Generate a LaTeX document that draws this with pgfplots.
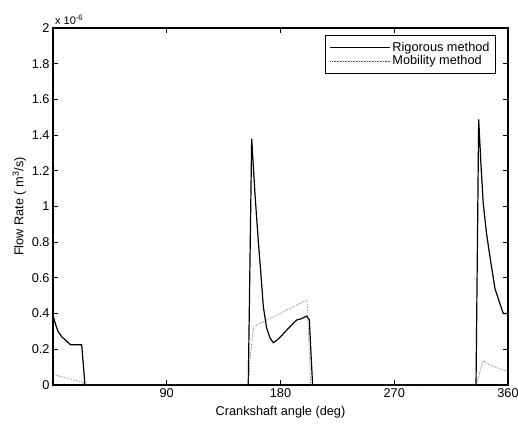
\documentclass[border=0pt]{standalone}
\usepackage{fontspec}
\setmainfont{Liberation Sans}
\usepackage{pgfplots}
\pgfplotsset{compat=1.18}
\begin{document}
\begin{tikzpicture}
% fixed page frame around the axis box
\path[use as bounding box] (-53bp,-43bp) rectangle (465bp,385bp);
\begin{axis}[
  at={(0,0)}, anchor=south west,
  scale only axis, width=455bp, height=357bp,
  xmin=0, xmax=360, ymin=0, ymax=2,
  xtick={90,180,270,360},
  ytick={0,0.2,0.4,0.6,0.8,1,1.2,1.4,1.6,1.8,2},
  yticklabels={0,0.2,0.4,0.6,0.8,1,1.2,1.4,1.6,1.8,2},
  xticklabels={90,180,270,360},
  scaled ticks=false,
  tick align=inside,
  major tick length=5bp,
  axis line style={line width=1.1bp},
  every tick/.style={line width=0.8bp, black},
  tick label style={font=\fontsize{12.8}{14}\selectfont},
  label style={font=\fontsize{12.8}{14}\selectfont},
  xlabel={Crankshaft angle (deg)},
  ylabel={Flow Rate ( m\textsuperscript{3}/s)},
  xlabel style={yshift=-2bp},
  ylabel style={yshift=-1bp},
  legend style={at={(1,1)}, anchor=north east, xshift=-12bp, yshift=-7bp,
    draw=black, line width=0.9bp, font=\fontsize{12.8}{13}\selectfont,
    row sep=-1.5bp, inner xsep=4bp, inner ysep=5bp},
  legend cell align=left,
  legend image code/.code={%
    \path (0cm,0cm) -- (2.1cm,0cm);
    \draw[#1] (0.28cm,0cm) -- (1.52cm,0cm);},
  clip=false,
]
\addplot[black, line width=1.2bp] coordinates {
 (0,0.39)(2,0.34)(4,0.30)(7,0.27)(10,0.25)(14,0.225)(22.7,0.225)(25.3,0)
 (154.5,0)(157.2,1.38)(160,1.05)(162.5,0.80)(164.5,0.62)(166.4,0.44)(169,0.32)
 (171.7,0.263)(174.3,0.237)(177,0.25)(180,0.27)(185,0.308)(188,0.33)(190,0.345)
 (192.8,0.364)(196,0.37)(200.7,0.386)(202.8,0.365)(205.4,0)
 (334.7,0)(336.8,1.488)(338.5,1.25)(340.4,1.018)(343,0.85)(345.7,0.72)
 (349.7,0.54)(353.6,0.457)(356.3,0.40)(360,0.40)
};
\addlegendentry{Rigorous method}
\addplot[black!70, line width=0.6bp, densely dotted] coordinates {
 (0,0.06)(5,0.05)(10,0.04)(15,0.03)(22,0.02)(25.3,0)
 (154.5,0)(156,0.15)(158,0.29)(159,0.327)(200.7,0.476)(201.5,0.40)(203.8,0)
 (335,0)(338,0.08)(340.4,0.135)(345,0.115)(350,0.10)(360,0.075)
};
\addlegendentry{Mobility method}
\node[anchor=south west, font=\fontsize{11}{12}\selectfont, inner sep=0pt]
  at ([xshift=2bp,yshift=3bp]rel axis cs:0,1) {x 10\textsuperscript{-6}};
\end{axis}
\end{tikzpicture}
\end{document}
